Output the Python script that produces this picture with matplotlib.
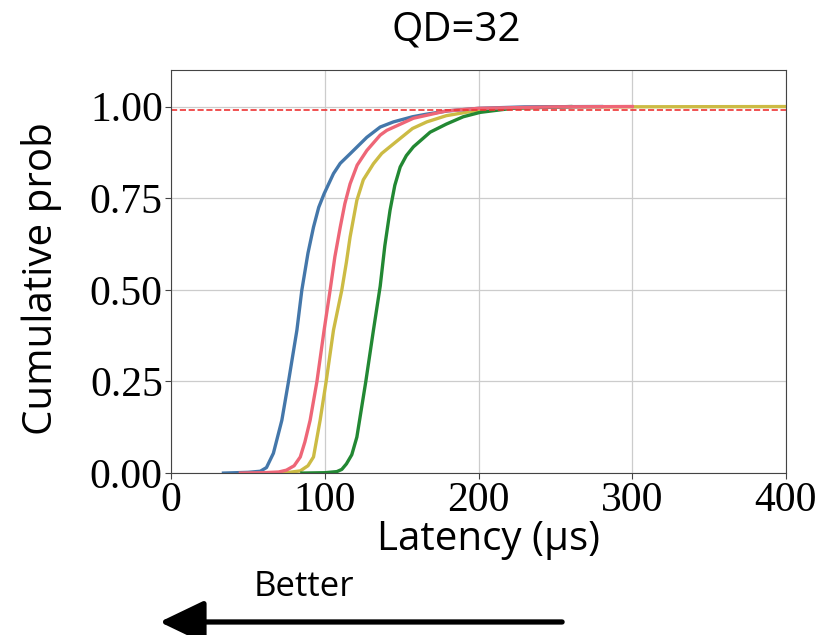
import matplotlib
matplotlib.use("Agg")
from matplotlib import pyplot as plt

# latency (us) / cumulative probability
blue_lat = [34, 50, 58, 62, 66.5, 72, 76.3, 81.8, 85, 89, 92.6, 96, 99.5, 105.6,
            110, 116.4, 127.3, 136, 144.6, 157, 166, 180, 200, 230, 280]
blue_cdf = [0, 0.002, 0.005, 0.015, 0.054, 0.144, 0.249, 0.39, 0.499, 0.6, 0.671,
            0.725, 0.762, 0.817, 0.845, 0.871, 0.916, 0.944, 0.958, 0.972, 0.979,
            0.988, 0.995, 0.999, 1.0]

pink_lat = [45, 60, 70, 75, 80, 84, 87, 90.4, 94.8, 99.5, 103.4, 106.5, 110, 113,
            116.4, 121, 127.3, 136, 140.3, 157.6, 179, 200, 250, 300]
pink_cdf = [0, 0.001, 0.003, 0.008, 0.02, 0.044, 0.085, 0.144, 0.249, 0.39, 0.499,
            0.59, 0.671, 0.735, 0.789, 0.84, 0.880, 0.922, 0.935, 0.968, 0.988,
            0.995, 0.999, 1.0]

yellow_lat = [60, 75, 84, 89, 92.6, 96.9, 100.8, 105.6, 111, 114, 116.4, 120.8, 125,
              131.6, 137, 144.6, 157, 166.3, 179, 200, 220, 260, 420]
yellow_cdf = [0, 0.001, 0.006, 0.02, 0.044, 0.144, 0.249, 0.39, 0.499, 0.575, 0.644,
              0.744, 0.8, 0.844, 0.872, 0.898, 0.94, 0.958, 0.975, 0.99, 0.996,
              0.999, 1.0]

green_lat = [85, 100, 107.8, 111, 114, 117.5, 120.8, 126.6, 131.6, 136, 139, 142.4,
             145.5, 149, 153, 157.6, 168.5, 179, 190, 201, 222, 260]
green_cdf = [0, 0.001, 0.004, 0.01, 0.025, 0.05, 0.098, 0.249, 0.39, 0.51, 0.62,
             0.717, 0.785, 0.835, 0.866, 0.89, 0.93, 0.952, 0.972, 0.984, 0.995, 1.0]

xticks = [0, 100, 200, 300, 400]
yticks = [0.00, 0.25, 0.50, 0.75, 1.00]

fig = plt.figure(figsize=(8.23, 6.35), dpi=100)
ax = fig.add_axes([0.208, 0.255, 0.747, 0.635])

lw = 2.4
ax.plot(yellow_lat, yellow_cdf, color='#CCBB44', lw=lw)
ax.plot(green_lat, green_cdf, color='#228833', lw=lw)
ax.plot(blue_lat, blue_cdf, color='#4477AA', lw=lw)
ax.plot(pink_lat, pink_cdf, color='#EE6677', lw=lw)
ax.axhline(0.99, color='#EE3333', ls='--', lw=1.2)

ax.set_xlim(0, 400)
ax.set_ylim(0, 1.1)
ax.set_xticks(xticks)
ax.set_yticks(yticks)
ax.set_yticklabels(['%.2f' % v for v in yticks])
ax.grid(True, color='#cccccc', lw=0.9)
ax.set_axisbelow(True)
for s in ax.spines.values():
    s.set_color('#444444')
ax.tick_params(axis='both', labelsize=30, colors='#444444', labelcolor='black',
               length=4, pad=2)
for lab in ax.get_xticklabels() + ax.get_yticklabels():
    lab.set_family('Liberation Serif')

sans = 'Open Sans'
fig.text(0.554, 0.953, 'QD=32', ha='center', va='center', fontsize=29, family=sans)
fig.text(0.051, 0.562, 'Cumulative prob', ha='center', va='center', rotation=90,
         fontsize=29, family=sans)
fig.text(0.593, 0.150, 'Latency (µs)', ha='center', va='center', fontsize=29, family=sans)
fig.text(0.369, 0.076, 'Better', ha='center', va='center', fontsize=25, family=sans)

fig.patches.append(matplotlib.patches.FancyArrowPatch(
    (0.683, 0.0205), (0.194, 0.0205), transform=fig.transFigure,
    arrowstyle='-|>,head_length=1.25,head_width=0.6', mutation_scale=22,
    shrinkA=0, shrinkB=0, color='black', lw=3.8))

fig.savefig('out.png', dpi=100)
